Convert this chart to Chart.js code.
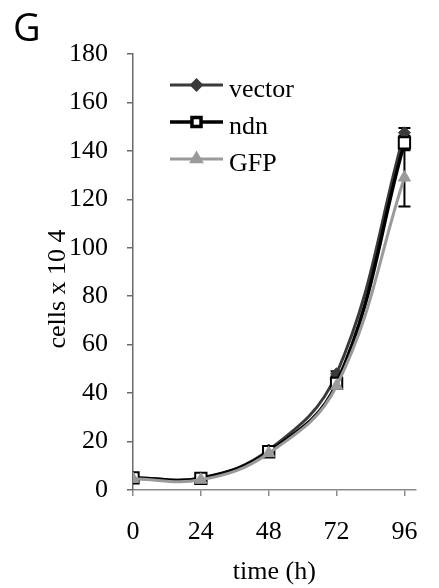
<!DOCTYPE html>
<html>
<head>
<meta charset="utf-8">
<script src="https://cdn.jsdelivr.net/npm/chart.js@4"></script>
<style>
  html, body { margin: 0; padding: 0; background: #fff; }
  #wrap { position: relative; width: 439px; height: 588px; }
  #panel { position: absolute; left: 13px; top: 7px; font: 38px/38px "Open Sans", sans-serif; color: #000; }
</style>
</head>
<body>
<div id="wrap">
  <canvas id="myChart" width="439" height="588"></canvas>
  <div id="panel">G</div>
</div>
<script>
const hours = [0, 24, 48, 72, 96]
const yTicks = [0, 20, 40, 60, 80, 100, 120, 140, 160, 180]

const vectorVals = [5.2, 5.0, 16.5, 48, 147.5]
const ndnVals = [5.0, 4.8, 15.8, 44, 143.3]
const gfpVals = [4.6, 4.2, 15.2, 43, 129]

const vectorErr = [0, 0, 0.5, 1, 2]
const ndnErr = [0, 0, 0.5, 1.5, 3]
const gfpErr = [0, 0, 0.5, 1, 12]

const yTitle = 'cells x 10 4'
const serif = "'Liberation Serif', 'Times New Roman', serif"
const labelFont = { family: serif, size: 26 }

function toPoints(vals) {
    return hours.map((h, i) => ({ x: h, y: vals[i] }))
}

// error bars, drawn under the markers
const errorBars = {
    id: 'errorBars',
    beforeDatasetsDraw(chart) {
        const ctx = chart.ctx
        const xs = chart.scales.x
        const ys = chart.scales.y
        ctx.save()
        ctx.strokeStyle = '#000'
        ctx.lineWidth = 2
        chart.data.datasets.forEach((ds) => {
            ds.err.forEach((e, i) => {
                if (!e) return
                const px = xs.getPixelForValue(hours[i])
                const top = ys.getPixelForValue(ds.data[i].y + e)
                const bot = ys.getPixelForValue(ds.data[i].y - e)
                ctx.beginPath()
                ctx.moveTo(px, top); ctx.lineTo(px, bot)
                ctx.moveTo(px - 6, top); ctx.lineTo(px + 6, top)
                ctx.moveTo(px - 6, bot); ctx.lineTo(px + 6, bot)
                ctx.stroke()
            })
        })
        ctx.restore()
    }
}

// Excel style legend (line with marker, then label) and the y title a bit below centre
const lineLegend = {
    id: 'lineLegend',
    afterDraw(chart) {
        const ctx = chart.ctx
        const x0 = 170, x1 = 223, rows = [85, 122, 159]
        ctx.save()
        chart.data.datasets.forEach((ds, i) => {
            const y = rows[i]
            ctx.strokeStyle = ds.borderColor
            ctx.lineWidth = ds.borderWidth
            ctx.beginPath()
            ctx.moveTo(x0, y); ctx.lineTo(x1, y)
            ctx.stroke()
            ctx.fillStyle = ds.pointBackgroundColor
            ctx.strokeStyle = ds.pointBorderColor
            Chart.helpers.drawPoint(ctx, {
                pointStyle: ds.pointStyle,
                radius: ds.pointRadius * 0.8,
                rotation: 0,
                borderWidth: ds.pointBorderWidth
            }, (x0 + x1) / 2, y)
            ctx.fillStyle = '#000'
            ctx.font = '26px ' + serif
            ctx.textBaseline = 'middle'
            ctx.textAlign = 'left'
            ctx.fillText(ds.label, 229, y + 5)
        })

        ctx.translate(58, 289)
        ctx.rotate(-Math.PI / 2)
        ctx.fillStyle = '#000'
        ctx.font = '26px ' + serif
        ctx.textAlign = 'center'
        ctx.textBaseline = 'middle'
        ctx.fillText(yTitle, 0, 0)
        ctx.restore()
    }
}

const ctx = document.getElementById('myChart')
const chart = new Chart(ctx, {
    type: 'line',
    data: {
        datasets: [
            {
                label: 'vector',
                data: toPoints(vectorVals),
                err: vectorErr,
                borderColor: '#3a3a3a',
                borderWidth: 3,
                pointStyle: 'rectRot',
                pointRadius: 6,
                pointBackgroundColor: '#3a3a3a',
                pointBorderColor: '#3a3a3a',
                pointBorderWidth: 1,
                tension: 0.4,
                order: 3
            },
            {
                label: 'ndn',
                data: toPoints(ndnVals),
                err: ndnErr,
                borderColor: '#000000',
                borderWidth: 3.5,
                pointStyle: 'rect',
                pointRadius: 8,
                pointBackgroundColor: '#ffffff',
                pointBorderColor: '#000000',
                pointBorderWidth: 2,
                tension: 0.4,
                order: 2
            },
            {
                label: 'GFP',
                data: toPoints(gfpVals),
                err: gfpErr,
                borderColor: '#9a9a9a',
                borderWidth: 3,
                pointStyle: 'triangle',
                pointRadius: 7,
                pointBackgroundColor: '#9a9a9a',
                pointBorderColor: '#9a9a9a',
                pointBorderWidth: 1,
                tension: 0.4,
                order: 1
            }
        ]
    },
    options: {
        responsive: false,
        animation: false,
        events: [],
        layout: { padding: { top: 54, right: 14, left: 0, bottom: 0 } },
        plugins: {
            legend: { display: false },
            tooltip: { enabled: false }
        },
        scales: {
            x: {
                type: 'linear',
                min: 0,
                max: 100,
                afterBuildTicks: (scale) => { scale.ticks = hours.map(v => ({ value: v })) },
                afterFit: (scale) => { scale.height = 98 },
                grid: { drawOnChartArea: false, drawTicks: true, tickLength: 6, color: '#8a8a8a', lineWidth: 1.5 },
                border: { display: true, color: '#8a8a8a', width: 1.5 },
                ticks: { color: '#000', font: labelFont, padding: 21, maxRotation: 0 },
                title: { display: true, text: 'time (h)', color: '#000', font: labelFont, padding: { top: 0, bottom: 0 } }
            },
            y: {
                min: 0,
                max: 180,
                afterBuildTicks: (scale) => { scale.ticks = yTicks.map(v => ({ value: v })) },
                afterFit: (scale) => { scale.width = 133 },
                grid: { drawOnChartArea: false, drawTicks: true, tickLength: 6, color: '#6a6a6a', lineWidth: 1.5 },
                border: { display: true, color: '#6a6a6a', width: 1.5 },
                ticks: { color: '#000', font: labelFont, padding: 19 }
            }
        }
    },
    plugins: [errorBars, lineLegend]
})
</script>
</body>
</html>
